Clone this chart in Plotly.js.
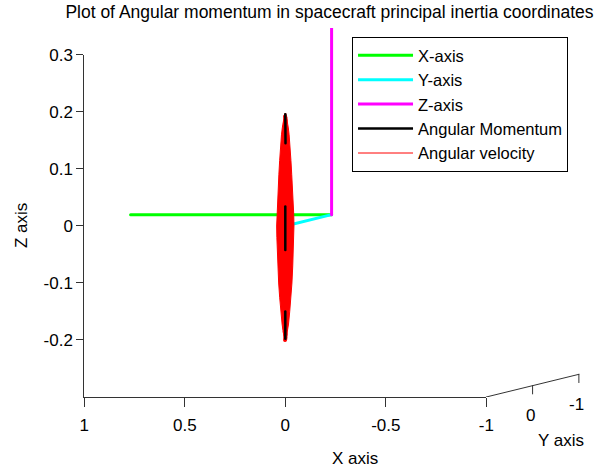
<!DOCTYPE html>
<html>
<head>
<meta charset="utf-8">
<script src="https://cdn.plot.ly/plotly-3.0.1.min.js"></script>
<style>
html,body{margin:0;padding:0;background:#fff;}
#chart{width:606px;height:470px;}
.scatterlayer .js-line{stroke-linejoin:round;stroke-linecap:round;}
</style>
</head>
<body>
<div id="chart"></div>
<script>
// ---------------- data (3-D, body frame) ----------------
// Body axes unit vectors drawn from the origin
var xAxisX = [0, 1], xAxisY = [0, 0], xAxisZ = [0, 0];
var yAxisX = [0, 0], yAxisY = [0, 1], yAxisZ = [0, 0];
var zAxisX = [0, 0], zAxisY = [0, 0], zAxisZ = [0, 1];

// Angular momentum (normalised); null = hidden behind the velocity trace
var momX = [0.000, 0.001, -0.001, null, 0.000, 0.001, 0.000, null, 0.000, -0.001, 0.000];
var momY = [1, 1, 1, null, 1, 1, 1, null, 1, 1, 1];
var momZ = [0.196, 0.170, 0.145, null, 0.034, 0.000, -0.042, null, -0.150, -0.175, -0.198];

// Angular velocity (normalised): path of the vector tip
var velX = [
 -0.001, 0.002, -0.003, 0.005, -0.007, 0.009, -0.010, 0.012, -0.013, 0.015,
 -0.017, 0.018, -0.020, 0.021, -0.023, 0.024, -0.026, 0.027, -0.028, 0.028,
 -0.027, 0.027, -0.026, 0.025, -0.024, 0.023, -0.022, 0.020, -0.019, 0.018,
 -0.016, 0.014, -0.012, 0.010, -0.008, 0.006, -0.004, 0.003, -0.002, 0.001,
 -0.001, 0.0025, -0.0035, 0.005, -0.007, 0.009, -0.011, 0.013, -0.015, 0.017,
 -0.0185, 0.0195, -0.021, 0.0225, -0.0235, 0.0245, -0.0255, 0.0265, -0.027, 0.0275,
 -0.028, 0.028, -0.0265, 0.025, -0.0235, 0.022, -0.0205, 0.019, -0.0175, 0.016,
 -0.014, 0.0125, -0.011, 0.0095, -0.008, 0.006, -0.004, 0.003, -0.002, 0.001
];
var velY = [
 1, 1, 1, 1, 1, 1, 1, 1, 1, 1,
 1, 1, 1, 1, 1, 1, 1, 1, 1, 1,
 1, 1, 1, 1, 1, 1, 1, 1, 1, 1,
 1, 1, 1, 1, 1, 1, 1, 1, 1, 1,
 1, 1, 1, 1, 1, 1, 1, 1, 1, 1,
 1, 1, 1, 1, 1, 1, 1, 1, 1, 1,
 1, 1, 1, 1, 1, 1, 1, 1, 1, 1,
 1, 1, 1, 1, 1, 1, 1, 1, 1, 1
];
var velZ = [
 0.19, 0.18, 0.17, 0.16, 0.15, 0.14, 0.13, 0.12, 0.11, 0.10,
 0.09, 0.08, 0.07, 0.06, 0.05, 0.04, 0.03, 0.02, 0.01, 0.00,
 -0.01, -0.02, -0.03, -0.04, -0.05, -0.06, -0.07, -0.08, -0.09, -0.10,
 -0.11, -0.12, -0.13, -0.14, -0.15, -0.16, -0.17, -0.18, -0.19, -0.20,
 -0.195, -0.185, -0.175, -0.165, -0.155, -0.145, -0.135, -0.125, -0.115, -0.105,
 -0.095, -0.085, -0.075, -0.065, -0.055, -0.045, -0.035, -0.025, -0.015, -0.005,
 0.005, 0.015, 0.025, 0.035, 0.045, 0.055, 0.065, 0.075, 0.085, 0.095,
 0.105, 0.115, 0.125, 0.135, 0.145, 0.155, 0.165, 0.175, 0.185, 0.192
];

// Outer envelope swept by the angular-velocity trace
var velEnvX = [
 0.003, 0.010, 0.015, 0.019, 0.024, 0.028, 0.032, 0.036, 0.040, 0.042,
 0.043, 0.042, 0.040, 0.037, 0.033, 0.028, 0.023, 0.016, 0.010, 0.003,
 -0.003, -0.010, -0.016, -0.022, -0.028, -0.033, -0.037, -0.040, -0.042, -0.043,
 -0.042, -0.040, -0.036, -0.032, -0.028, -0.024, -0.019, -0.015, -0.010, -0.003
];
var velEnvY = [
 1, 1, 1, 1, 1, 1, 1, 1, 1, 1,
 1, 1, 1, 1, 1, 1, 1, 1, 1, 1,
 1, 1, 1, 1, 1, 1, 1, 1, 1, 1,
 1, 1, 1, 1, 1, 1, 1, 1, 1, 1
];
var velEnvZ = [
 0.197, 0.185, 0.172, 0.160, 0.140, 0.115, 0.090, 0.065, 0.040, 0.020,
 0.000, -0.020, -0.045, -0.070, -0.100, -0.125, -0.150, -0.172, -0.187, -0.200,
 -0.200, -0.187, -0.172, -0.150, -0.125, -0.100, -0.070, -0.045, -0.020, 0.000,
 0.020, 0.040, 0.065, 0.090, 0.115, 0.140, 0.160, 0.172, 0.185, 0.197
];

// ---------------- axes ----------------
var xRange = [1, -1];
var yRange = [1, -1];
var zRange = [-0.3, 0.3];
var xTickVals = [-1, -0.5, 0, 0.5, 1];
var xTickText = ['-1', '-0.5', '0', '0.5', '1'];
var yTickVals = [-1, 0];
var yTickText = ['-1', '0'];
var zTickVals = [-0.2, -0.1, 0, 0.1, 0.2, 0.3];
var zTickText = ['-0.2', '-0.1', '0', '0.1', '0.2', '0.3'];

// ---------------- view (oblique projection of the y direction) ----------------
// Front face of the box (y = 1) is the 2-D plane; depth (y) shifts right/up.
var KX = 0.2303;   // abscissa shift per unit of y
var KZ = 0.0199;   // ordinate shift per unit of y
var FRONT = yRange[0];
function px(xs, ys) { return xs.map(function (v, i) { return (v === null || ys[i] === null) ? null : v + KX * (ys[i] - FRONT); }); }
function pz(zs, ys) { return zs.map(function (v, i) { return (v === null || ys[i] === null) ? null : v - KZ * (ys[i] - FRONT); }); }

// oblique y edge of the box, at x = xRange[1], z = zRange[0]
var yEdgeX = [xRange[1], xRange[1]], yEdgeY = [yRange[0], yRange[1]], yEdgeZ = [zRange[0], zRange[0]];
var TICKDZ = 0.0145;
var yTickLX = [], yTickLY = [], yTickLZ = [];
yTickVals.forEach(function (t) {
  yTickLX.push(xRange[1], xRange[1], null);
  yTickLY.push(t, t, null);
  yTickLZ.push(zRange[0], zRange[0] - TICKDZ, null);
});

var FONT = 'Liberation Sans, Arial, Helvetica, sans-serif';
var AXC = '#333';

var traces = [
  {type:'scatter', mode:'lines', name:'X-axis', legendrank:1, xaxis:'x', yaxis:'y',
   x:px(xAxisX, xAxisY), y:pz(xAxisZ, xAxisY), line:{color:'#00ff00', width:3}},
  {type:'scatter', mode:'lines', name:'Y-axis', legendrank:2, xaxis:'x', yaxis:'y',
   x:px(yAxisX, yAxisY), y:pz(yAxisZ, yAxisY), line:{color:'#00ffff', width:3}},
  {type:'scatter', mode:'lines', name:'Angular velocity', showlegend:false, xaxis:'x', yaxis:'y',
   x:px(velEnvX, velEnvY), y:pz(velEnvZ, velEnvY), fill:'toself', fillcolor:'#ff0000',
   line:{color:'#ff0000', width:1}},
  {type:'scatter', mode:'lines', name:'Angular velocity', showlegend:false, xaxis:'x', yaxis:'y',
   x:px(velX, velY), y:pz(velZ, velY), line:{color:'#ff0000', width:4}},
  {type:'scatter', mode:'lines', name:'Angular velocity', legendrank:5, xaxis:'x', yaxis:'y',
   x:px(velX, velY), y:pz(velZ, velY), line:{color:'#ff0000', width:1}},
  {type:'scatter', mode:'lines', name:'Angular Momentum', legendrank:4, xaxis:'x', yaxis:'y', connectgaps:false,
   x:px(momX, momY), y:pz(momZ, momY), line:{color:'#000000', width:2.5}},
  {type:'scatter', mode:'lines', name:'Z-axis', legendrank:3, xaxis:'x2', yaxis:'y2',
   x:px(zAxisX, zAxisY), y:pz(zAxisZ, zAxisY), line:{color:'#ff00ff', width:3}},
  {type:'scatter', mode:'lines', name:'y edge', showlegend:false, xaxis:'x2', yaxis:'y2', hoverinfo:'skip',
   x:px(yEdgeX, yEdgeY), y:pz(yEdgeZ, yEdgeY), line:{color:AXC, width:1}},
  {type:'scatter', mode:'lines', name:'y ticks', showlegend:false, xaxis:'x2', yaxis:'y2', hoverinfo:'skip',
   x:px(yTickLX, yTickLY), y:pz(yTickLZ, yTickLY), line:{color:AXC, width:1}}
];

var yLabAnn = yTickVals.map(function (t, i) {
  return {text: yTickText[i], xref:'x2', yref:'y2',
          x: px([xRange[1]], [t])[0], y: pz([zRange[0]], [t])[0],
          yshift: -30, xshift: -2, showarrow:false, xanchor:'center', yanchor:'middle',
          font:{family:FONT, size:17, color:'#000'}};
});

var frontAxis = {
  showgrid:false, zeroline:false, showline:true, linecolor:AXC, linewidth:1,
  ticks:'outside', ticklen:9, tickcolor:AXC, tickwidth:1,
  tickfont:{family:FONT, size:17, color:'#000'}, tickmode:'array', fixedrange:true
};

var layout = {
  width:606, height:470,
  margin:{l:0, r:0, t:0, b:0},
  paper_bgcolor:'#fff', plot_bgcolor:'rgba(0,0,0,0)',
  showlegend:true,
  title:{text:'Plot of Angular momentum in spacecraft principal inertia coordinates',
         font:{family:FONT, size:17.5, color:'#000'},
         x:0.5437, xanchor:'center', xref:'container', y:0.9755, yanchor:'middle', yref:'container'},
  legend:{x:0.5809, y:0.9213, xanchor:'left', yanchor:'top', bgcolor:'#fff',
          bordercolor:'#000', borderwidth:1, font:{family:FONT, size:16.5, color:'#000'},
          itemwidth:55},
  xaxis: Object.assign({}, frontAxis, {domain:[0.13911, 0.80248], range:xRange, anchor:'y',
          tickvals:xTickVals, ticktext:xTickText, ticklabelstandoff:4}),
  yaxis: Object.assign({}, frontAxis, {domain:[0.15532, 0.88298], range:zRange, anchor:'x',
          tickvals:zTickVals, ticktext:zTickText, ticklen:7}),
  xaxis2:{domain:[0.13911, 1.0], range:[xRange[0], -1.5955], anchor:'y2', visible:false, fixedrange:true},
  yaxis2:{domain:[0.15532, 0.94043], range:[zRange[0], 0.34737], anchor:'x2', visible:false, fixedrange:true},
  annotations: [
    {text:'X axis', x:355/606, y:1 - 458/470, xref:'paper', yref:'paper', showarrow:false,
     font:{family:FONT, size:17, color:'#000'}, xanchor:'center', yanchor:'middle'},
    {text:'Y axis', x:561/606, y:1 - 440/470, xref:'paper', yref:'paper', showarrow:false,
     font:{family:FONT, size:17, color:'#000'}, xanchor:'center', yanchor:'middle'},
    {text:'Z axis', x:22/606, y:1 - 226/470, xref:'paper', yref:'paper', showarrow:false, textangle:-90,
     font:{family:FONT, size:17, color:'#000'}, xanchor:'center', yanchor:'middle'}
  ].concat(yLabAnn)
};

Plotly.newPlot('chart', traces, layout, {displayModeBar:false, staticPlot:true});
</script>
</body>
</html>
